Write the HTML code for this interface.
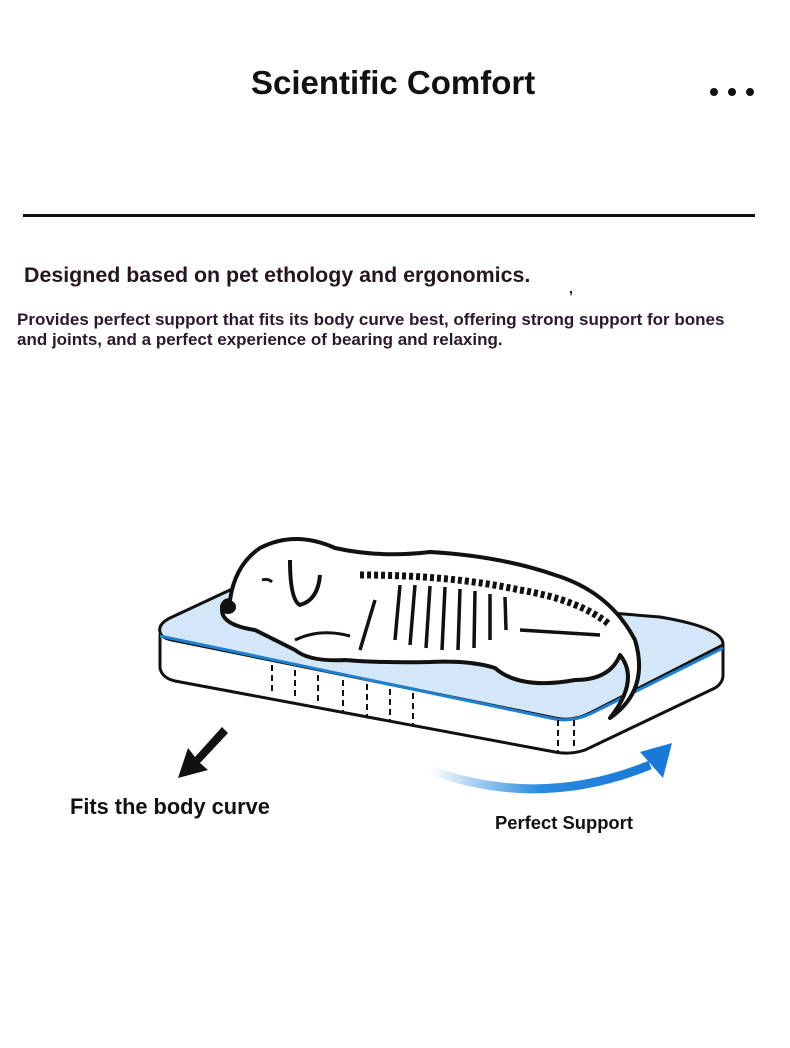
<!DOCTYPE html>
<html><head><style>
body{margin:0;width:790px;height:1048px;background:#fff;position:relative;overflow:hidden;font-family:"Liberation Sans",sans-serif;color:#1a0f1a}
.t{position:absolute;font-weight:bold;white-space:nowrap}
</style></head><body>
<div class="t" style="left:251px;top:64px;font-size:33px;color:#111">Scientific Comfort</div>
<div style="position:absolute;left:710px;top:88px">
<span style="position:absolute;left:0;width:8px;height:8px;border-radius:50%;background:#111"></span>
<span style="position:absolute;left:18px;width:8px;height:8px;border-radius:50%;background:#111"></span>
<span style="position:absolute;left:36px;width:8px;height:8px;border-radius:50%;background:#111"></span></div>
<div style="position:absolute;left:23px;top:214px;width:732px;height:3px;background:#111"></div>
<div class="t" style="left:24px;top:263px;font-size:21.4px;color:#24161f">Designed based on pet ethology and ergonomics.</div>
<div class="t" style="left:569px;top:280px;font-size:14px">,</div>
<div class="t" style="left:17px;top:310px;font-size:17px;line-height:20px;color:#2a1a2a">Provides perfect support that fits its body curve best, offering strong support for bones<br>and joints, and a perfect experience of bearing and relaxing.</div>
<svg style="position:absolute;left:0;top:0" width="790" height="1048">
<defs><linearGradient id="g" x1="0" x2="1"><stop offset="0" stop-color="#2a8be0" stop-opacity="0"/><stop offset="0.5" stop-color="#2a8be0"/><stop offset="1" stop-color="#1a78d8"/></linearGradient></defs>
<path d="M160 635 L160 668 Q162 678 175 681 L555 752 Q570 755 585 750 L715 688 Q723 683 723 675 L723 645 Z" fill="#fff" stroke="#111" stroke-width="3" stroke-linejoin="round"/>
<path d="M160 632 Q158 624 170 618 L245 583 L660 617 Q725 628 723 645 L590 713 Q572 722 555 718 L172 640 Q161 638 160 632 Z" fill="#d4e7f8" stroke="#111" stroke-width="3" stroke-linejoin="round"/>
<path d="M160 636 L555 719 Q572 722 590 714 L723 648" fill="none" stroke="#1f7fd0" stroke-width="3"/>
<g stroke="#111" stroke-width="2" stroke-dasharray="6 4">
<line x1="272" y1="665" x2="272" y2="695"/><line x1="295" y1="670" x2="295" y2="700"/><line x1="318" y1="675" x2="318" y2="705"/><line x1="343" y1="680" x2="343" y2="712"/><line x1="367" y1="684" x2="367" y2="718"/><line x1="390" y1="689" x2="390" y2="722"/><line x1="413" y1="693" x2="413" y2="727"/><line x1="558" y1="720" x2="558" y2="752"/><line x1="574" y1="720" x2="574" y2="750"/></g>
<path d="M230 600 Q235 565 260 548 Q295 530 335 548 Q380 558 430 552 Q500 556 555 575 Q610 592 635 640 Q650 690 610 718 Q640 680 620 655 Q610 680 575 680 Q520 690 495 668 Q470 660 430 662 Q380 663 345 660 Q310 662 295 650 L255 630 Q222 625 222 610 Q222 600 230 600 Z" fill="#fff" stroke="#111" stroke-width="4" stroke-linejoin="round"/>
<path d="M290 560 Q290 600 300 605 Q318 600 320 575" fill="none" stroke="#111" stroke-width="4"/>
<ellipse cx="228" cy="607" rx="8" ry="7" fill="#111"/>
<path d="M262 580 Q268 578 272 582" stroke="#111" stroke-width="3" fill="none"/>
<path d="M360 575 Q450 575 520 590 Q580 600 610 625" fill="none" stroke="#111" stroke-width="7" stroke-dasharray="4 3"/>
<g stroke="#111" stroke-width="3.5">
<line x1="400" y1="585" x2="395" y2="640"/><line x1="415" y1="585" x2="410" y2="645"/><line x1="430" y1="586" x2="426" y2="648"/><line x1="445" y1="587" x2="442" y2="650"/><line x1="460" y1="589" x2="458" y2="650"/><line x1="475" y1="591" x2="474" y2="648"/><line x1="490" y1="594" x2="490" y2="640"/><line x1="505" y1="597" x2="506" y2="630"/>
<line x1="520" y1="630" x2="600" y2="635"/><line x1="375" y1="600" x2="360" y2="650"/></g>
<path d="M295 640 Q320 628 350 636" fill="none" stroke="#111" stroke-width="3"/>
<path d="M222 727 L195 757 L188 748 L178 778 L208 770 L200 763 L228 733 Z" fill="#111"/>
<path d="M430 770 Q540 810 650 765" fill="none" stroke="url(#g)" stroke-width="9"/>
<path d="M640 752 L672 743 L663 778 Z" fill="#1a78d8"/>
</svg>
<div class="t" style="left:70px;top:794px;font-size:21.8px;color:#111">Fits the body curve</div>
<div class="t" style="left:495px;top:812px;font-size:18.4px;color:#111">Perfect Support</div>
</body></html>
